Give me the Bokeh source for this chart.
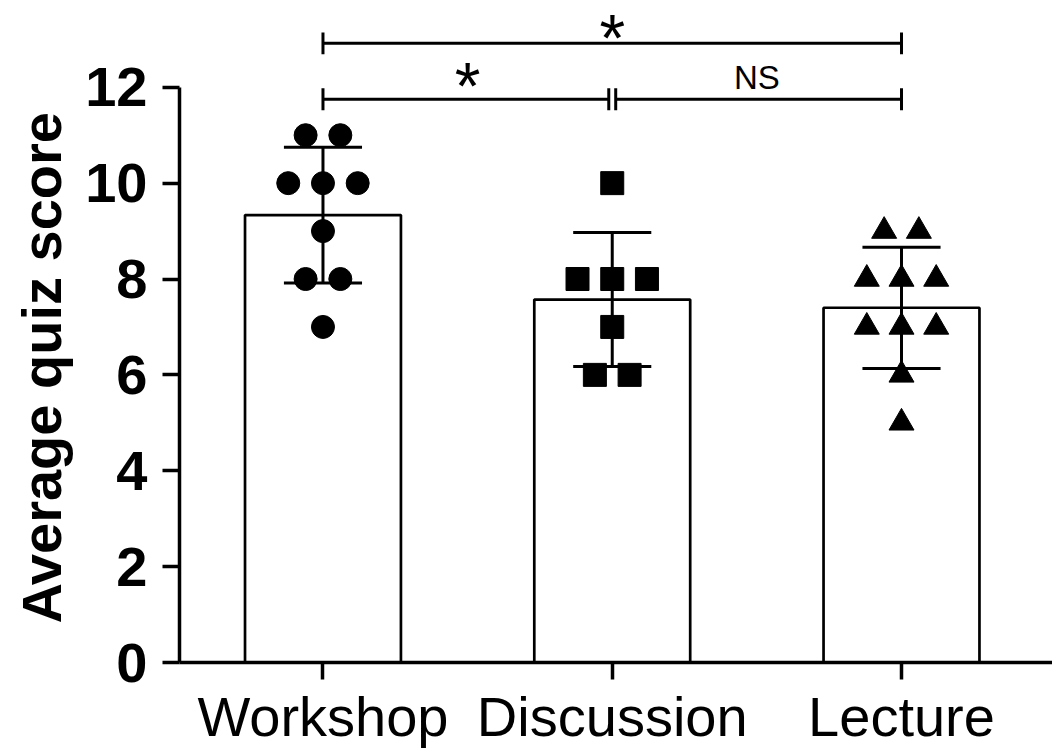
import numpy as np
from bokeh.plotting import figure
from bokeh.models import Range1d, FixedTicker, Title
from bokeh.core.properties import value
from bokeh.embed import file_html
from bokeh.resources import INLINE

# ---------------- data ----------------
categories = ["Workshop", "Discussion", "Lecture"]
workshop_scores = [11, 11, 10, 10, 10, 9, 8, 8, 7]
discussion_scores = [10, 8, 8, 8, 7, 6, 6]
lecture_scores = [9, 9, 8, 8, 8, 7, 7, 7, 6, 5]
group_markers = ["circle", "square", "triangle"]
y_ticks = [0, 2, 4, 6, 8, 10, 12]
y_title = "Average quiz score"
# comparisons: (group a, group b, label)
comparisons_top = [("Workshop", "Lecture", "*")]
comparisons_low = [("Workshop", "Discussion", "*"), ("Discussion", "Lecture", "NS")]

groups = [workshop_scores, discussion_scores, lecture_scores]
xpos = {c: i + 1 for i, c in enumerate(categories)}
xs = [xpos[c] for c in categories]
means = [float(np.mean(g)) for g in groups]
sds = [float(np.std(g, ddof=1)) for g in groups]

FONT = "Liberation Sans"

p = figure(width=1052, height=750,
           x_range=Range1d(0.504, 3.522), y_range=Range1d(0, 13.81),
           output_backend="svg", toolbar_location=None,
           min_border_left=179, min_border_right=0,
           min_border_top=0, min_border_bottom=86)
p.xgrid.visible = False
p.ygrid.visible = False
p.outline_line_color = None
p.background_fill_color = "white"
p.border_fill_color = "white"

# x axis
xa = p.xaxis[0]
xa.ticker = FixedTicker(ticks=xs)
xa.major_label_overrides = {xpos[c]: c for c in categories}
xa.major_label_text_font = FONT
xa.major_label_text_font_size = "56px"
xa.major_label_text_color = "black"
xa.major_label_standoff = 5
xa.major_tick_out = 17
xa.major_tick_in = 0
xa.minor_tick_line_color = None
xa.axis_line_width = 3.5
xa.major_tick_line_width = 3.5
xa.axis_line_color = "black"
xa.major_tick_line_color = "black"

# y axis
ya = p.yaxis[0]
ya.ticker = FixedTicker(ticks=y_ticks)
ya.bounds = (0, 12)
ya.major_label_text_font = FONT
ya.major_label_text_font_style = "bold"
ya.major_label_text_font_size = "56px"
ya.major_label_text_color = "black"
ya.major_tick_out = 17
ya.major_tick_in = 0
ya.minor_tick_line_color = None
ya.axis_line_width = 3.5
ya.major_tick_line_width = 3.5
ya.axis_line_color = "black"
ya.major_tick_line_color = "black"
ya.major_label_standoff = 15

# y axis title, placed along the 0-12 part of the axis
p.add_layout(Title(text=y_title, align="left", offset=39, standoff=15,
                   vertical_align="top",
                   text_font=FONT, text_font_size="56px",
                   text_font_style="bold", text_color="black"), "left")

# bars
p.vbar(x=xs, top=means, width=0.539, fill_color="white",
       line_color="black", line_width=2.7)

# error bars (mean +/- SD)
lo = [m - s for m, s in zip(means, sds)]
hi = [m + s for m, s in zip(means, sds)]
cap = 0.135
p.segment(x0=xs, y0=lo, x1=xs, y1=hi, line_color="black", line_width=3)
p.segment(x0=[x - cap for x in xs], y0=hi, x1=[x + cap for x in xs], y1=hi,
          line_color="black", line_width=3)
p.segment(x0=[x - cap for x in xs], y0=lo, x1=[x + cap for x in xs], y1=lo,
          line_color="black", line_width=3)

# individual points, spread side by side where values coincide
spacing = 0.12
for gx, g, mk in zip(xs, groups, group_markers):
    px, py = [], []
    for v in sorted(set(g), reverse=True):
        k = g.count(v)
        for i in range(k):
            px.append(gx + (i - (k - 1) / 2) * spacing)
            py.append(v)
    size = 25 if mk == "triangle" else 23
    p.scatter(x=px, y=py, marker=mk, size=size, fill_color="black",
              line_color="black")

# significance brackets
tick_h = 0.229
def bracket(a, b, level, label, label_dy, gap_left=0.0, gap_right=0.0):
    x0 = xpos[a] + gap_left
    x1 = xpos[b] - gap_right
    p.segment(x0=[x0], y0=[level], x1=[x1], y1=[level], line_color="black", line_width=3)
    p.segment(x0=[x0, x1], y0=[level - tick_h] * 2, x1=[x0, x1], y1=[level + tick_h] * 2,
              line_color="black", line_width=3)
    xm = (xpos[a] + xpos[b]) / 2
    size = "66px" if label == "*" else "33px"
    p.text(x=[xm], y=[level + label_dy], text=[label], text_font=value(FONT),
           text_font_size=size, text_align="center",
           text_baseline="alphabetic", text_color="black")

for a, b, lab in comparisons_top:
    bracket(a, b, 12.916, lab, 0.12)
for a, b, lab in comparisons_low:
    gl = 0.012 if a == "Discussion" else 0.0
    gr = 0.012 if b == "Discussion" else 0.0
    bracket(a, b, 11.75, lab, 0.28 if lab == "*" else 0.46,
            gap_left=gl, gap_right=gr)

open("out.html", "w").write(file_html(p, INLINE))
